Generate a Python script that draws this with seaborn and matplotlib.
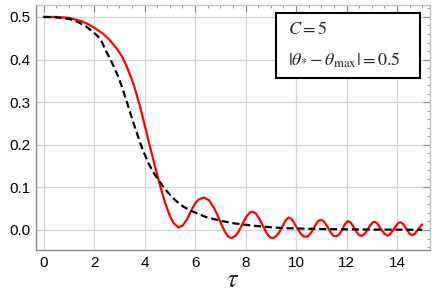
"""
plot.py

Recrea la figura de relajación: curva roja oscilante y curva negra discontinua
frente a tau, con cuadro de parámetros arriba a la derecha.
"""

import numpy as np
import pandas as pd
import matplotlib.pyplot as plt
from matplotlib.patches import Rectangle
import seaborn as sns


# =========================
# Datos
# =========================

tau_red = [
    0.0, 0.5, 1.0, 1.5, 1.7, 2.0, 2.35, 2.6, 2.88, 3.1, 3.27, 3.45, 3.6, 3.8,
    4.0, 4.2, 4.4, 4.6, 4.8, 5.0, 5.15, 5.34, 5.5, 5.67, 5.85, 6.0, 6.15, 6.35,
    6.55, 6.75, 6.9, 7.05, 7.2, 7.32, 7.44, 7.6, 7.75, 7.9, 8.05, 8.17, 8.27,
    8.4, 8.55, 8.7, 8.85, 8.97, 9.08, 9.2, 9.35, 9.5, 9.6, 9.7, 9.8, 9.9,
    10.05, 10.2, 10.3, 10.4, 10.5, 10.62, 10.75, 10.87, 10.99, 11.1, 11.22,
    11.35, 11.47, 11.58, 11.7, 11.8, 11.92, 12.04, 12.15, 12.27, 12.4, 12.5,
    12.59, 12.7, 12.82, 12.95, 13.04, 13.12, 13.22, 13.35, 13.5, 13.62, 13.72,
    13.85, 13.97, 14.06, 14.14, 14.24, 14.37, 14.5, 14.6, 14.7, 14.82, 14.92,
    15.0,
]
theta_red = [
    0.5, 0.5, 0.498, 0.49, 0.485, 0.475, 0.461, 0.447, 0.427, 0.408, 0.387,
    0.360, 0.335, 0.294, 0.247, 0.199, 0.152, 0.107, 0.066, 0.033, 0.016,
    0.006, 0.010, 0.024, 0.046, 0.062, 0.072, 0.076, 0.070, 0.052, 0.033,
    0.012, -0.006, -0.016, -0.019, -0.014, -0.001, 0.017, 0.033, 0.041, 0.043,
    0.039, 0.026, 0.008, -0.009, -0.017, -0.019, -0.015, -0.004, 0.013, 0.024,
    0.029, 0.027, 0.019, 0.003, -0.010, -0.015, -0.016, -0.013, -0.004, 0.010,
    0.021, 0.024, 0.020, 0.010, -0.004, -0.013, -0.015, -0.011, -0.002, 0.012,
    0.021, 0.018, 0.008, -0.005, -0.012, -0.014, -0.010, 0.000, 0.012, 0.018,
    0.019, 0.015, 0.003, -0.009, -0.013, -0.010, 0.000, 0.011, 0.017, 0.018,
    0.014, 0.002, -0.009, -0.012, -0.009, 0.000, 0.008, 0.013,
]

tau_black = [
    0.0, 0.5, 1.04, 1.4, 1.7, 1.95, 2.16, 2.3, 2.48, 2.65, 2.81, 2.95, 3.08,
    3.2, 3.34, 3.5, 3.67, 3.82, 4.0, 4.15, 4.35, 4.55, 4.8, 5.01, 5.25, 5.53,
    5.8, 6.12, 6.45, 6.98, 7.5, 8.03, 8.5, 9.08, 9.7, 10.4, 11.2, 12.0, 13.0,
    14.0, 15.0,
]
theta_black = [
    0.5, 0.499, 0.495, 0.487, 0.477, 0.465, 0.454, 0.442, 0.419, 0.400, 0.380,
    0.360, 0.340, 0.318, 0.293, 0.262, 0.232, 0.205, 0.178, 0.157, 0.135,
    0.117, 0.097, 0.082, 0.068, 0.055, 0.046, 0.038, 0.030, 0.022, 0.016,
    0.012, 0.009, 0.006, 0.004, 0.003, 0.002, 0.0015, 0.001, 0.0008, 0.0005,
]

x_ticks = [0, 2, 4, 6, 8, 10, 12, 14]
y_ticks = [0.0, 0.1, 0.2, 0.3, 0.4, 0.5]
y_tick_labels = ["0.0", "0.1", "0.2", "0.3", "0.4", "0.5"]

label_c = r"$C=5$"
label_theta = r"$|\theta_{*}-\theta_{\max}|=0.5$"


def main():
    sns.set_style("white")
    plt.rcParams["font.family"] = ["Liberation Sans", "DejaVu Sans"]
    plt.rcParams["mathtext.fontset"] = "stix"

    df_red = pd.DataFrame({"tau": tau_red, "theta": theta_red})
    df_black = pd.DataFrame({"tau": tau_black, "theta": theta_black})

    fig = plt.figure(figsize=(4.36, 2.95), dpi=100)
    ax = fig.add_axes([0.0826, 0.1525, 0.9034, 0.8305])

    sns.lineplot(data=df_black, x="tau", y="theta", color="black",
                 linewidth=1.6, ax=ax, zorder=3)
    ax.lines[-1].set_dashes([3.2, 1.7])

    sns.lineplot(data=df_red, x="tau", y="theta", color="red",
                 linewidth=1.6, ax=ax, zorder=2)

    ax.set_xlim(-0.3, 15.3)
    ax.set_ylim(-0.047, 0.528)

    ax.set_xticks(x_ticks)
    ax.set_xticklabels([str(t) for t in x_ticks])
    ax.set_yticks(y_ticks)
    ax.set_yticklabels(y_tick_labels)
    ax.set_xticks(np.arange(-0.0, 15.01, 0.5), minor=True)
    ax.set_yticks(np.arange(-0.04, 0.521, 0.02), minor=True)

    ax.grid(True, which="major", color="#d6d6d6", linewidth=0.9)
    ax.set_axisbelow(True)

    for side in ["left", "bottom"]:
        ax.spines[side].set_color("#8a8a8a")
        ax.spines[side].set_linewidth(1.0)
    for side in ["top", "right"]:
        ax.spines[side].set_color("#c0c0c0")
        ax.spines[side].set_linewidth(1.0)

    ax.tick_params(which="both", direction="in", top=True, right=True,
                   colors="#8a8a8a", labelcolor="black", labelsize=11)
    ax.tick_params(which="major", length=5, width=0.8, pad=4)
    ax.tick_params(which="minor", length=2.5, width=0.6)

    ax.set_xlabel(r"$\tau$", fontsize=19, labelpad=-1)
    ax.set_ylabel("")

    # Cuadro de parámetros
    ax.add_patch(Rectangle((0.609, 0.702), 0.366, 0.265,
                           transform=ax.transAxes, facecolor="white",
                           edgecolor="black", linewidth=1.5, zorder=5))
    ax.text(0.64, 0.902, label_c, transform=ax.transAxes, fontsize=13,
            ha="left", va="center", zorder=6)
    ax.text(0.64, 0.776, label_theta, transform=ax.transAxes, fontsize=13,
            ha="left", va="center", zorder=6)

    fig.savefig("out.png", dpi=100)
    plt.close(fig)


if __name__ == "__main__":
    main()
